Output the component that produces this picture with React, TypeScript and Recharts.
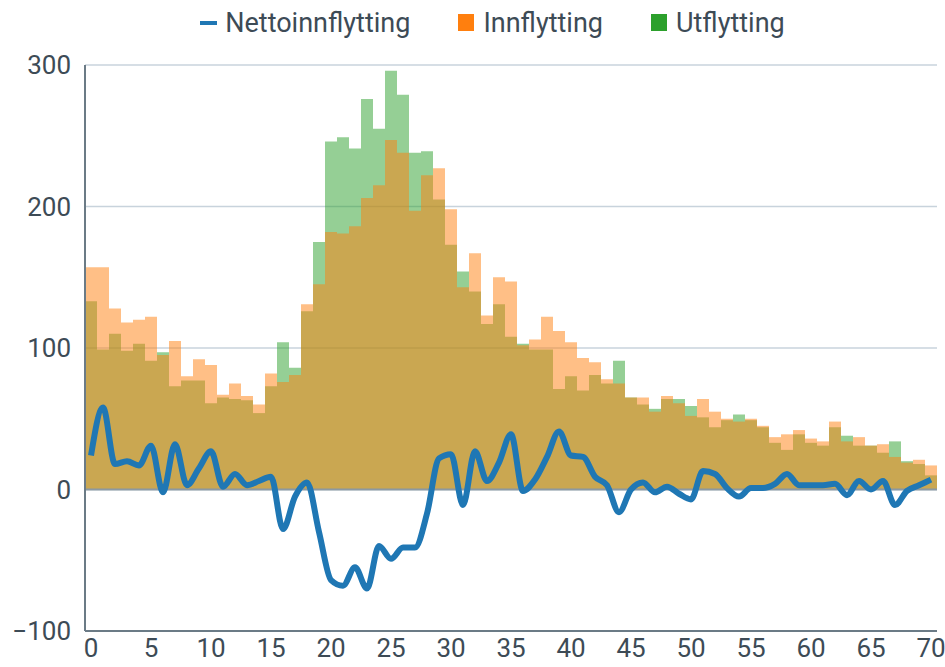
import { ComposedChart, Bar, Line, XAxis, YAxis, CartesianGrid, Legend, ReferenceLine } from 'recharts';

const ages = Array.from({ length: 71 }, (_, i) => i);

const innflytting = [
    157, 157, 128, 118, 120, 122, 95, 105, 80, 92,
    88, 67, 75, 66, 60, 82, 76, 81, 131, 145,
    182, 181, 186, 206, 215, 247, 238, 197, 222, 227,
    198, 143, 167, 123, 150, 147, 102, 106, 122, 112,
    104, 93, 90, 78, 75, 65, 65, 55, 66, 61,
    52, 64, 55, 50, 48, 50, 45, 37, 39, 42,
    36, 34, 48, 34, 37, 31, 32, 23, 19, 21,
    17,
];

const utflytting = [
    133, 99, 110, 98, 103, 91, 97, 73, 77, 77,
    61, 65, 64, 63, 54, 73, 104, 86, 126, 175,
    246, 249, 241, 276, 255, 296, 279, 238, 239, 205,
    173, 154, 140, 117, 131, 108, 103, 99, 99, 71,
    80, 70, 81, 75, 91, 65, 60, 57, 64, 64,
    59, 51, 44, 49, 53, 49, 44, 33, 28, 39,
    33, 31, 44, 38, 31, 31, 26, 34, 20, 18,
    10,
];

const nettoinnflytting = [
    24, 58, 18, 20, 17, 31, -2, 32, 3, 15,
    27, 2, 11, 3, 6, 9, -28, -5, 5, -30,
    -64, -68, -55, -70, -40, -49, -41, -41, -17, 22,
    25, -11, 27, 6, 19, 39, -1, 7, 23, 41,
    24, 23, 9, 3, -16, 0, 5, -2, 2, -3,
    -7, 13, 11, 1, -5, 1, 1, 4, 11, 3,
    3, 3, 4, -4, 6, 0, 6, -11, -1, 3,
    7,
];

const yTicks = [-100, 0, 100, 200, 300];

const data = ages.map((age, i) => ({
    age,
    inn: innflytting[i],
    ut: utflytting[i],
    netto: nettoinnflytting[i],
}));

const textColor = '#3d4b56';

function ChartLegend() {
    const items = [
        { label: 'Nettoinnflytting', color: '#1f77b4', kind: 'line' },
        { label: 'Innflytting', color: '#ff7f0e', kind: 'square' },
        { label: 'Utflytting', color: '#2ca02c', kind: 'square' },
    ];
    return (
        <div style={{ display: 'flex', justifyContent: 'center', alignItems: 'center', fontSize: 27, color: textColor, fontFamily: 'Roboto, sans-serif', height: 45, paddingLeft: 48, boxSizing: 'border-box' }}>
            {items.map((it) => (
                <div key={it.label} style={{ display: 'flex', alignItems: 'center', margin: '0 24px' }}>
                    {it.kind === 'line' ? (
                        <span style={{ display: 'inline-block', width: 17, height: 4, background: it.color, marginRight: 8 }} />
                    ) : (
                        <span style={{ display: 'inline-block', width: 16, height: 17, background: it.color, marginRight: 9 }} />
                    )}
                    <span>{it.label}</span>
                </div>
            ))}
        </div>
    );
}

export default function App() {
    // plot width 852 = 71 * 12, so every age band is a whole 12px and bars meet without seams
    return (
        <div style={{ position: 'absolute', left: 0, top: 0, width: 945, height: 667, background: '#fff' }}>
            <ComposedChart
                width={945}
                height={667}
                data={data}
                margin={{ top: 20, right: 8, bottom: 0, left: 0 }}
                barCategoryGap={0}
                barGap="-100%"
            >
                <CartesianGrid horizontal vertical={false} stroke="#c8d3dc" strokeWidth={1.5} />
                <XAxis
                    dataKey="age"
                    interval={4}
                    tickLine={false}
                    axisLine={{ stroke: '#6b7b86', strokeWidth: 2 }}
                    tick={{ fill: textColor, fontSize: 26, fontFamily: 'Roboto, sans-serif' }}
                    height={36}
                    tickMargin={2}
                />
                <YAxis
                    domain={[-100, 300]}
                    ticks={yTicks}
                    width={85}
                    tickLine={false}
                    axisLine={{ stroke: '#6b7b86', strokeWidth: 2 }}
                    tick={{ fill: textColor, fontSize: 26, fontFamily: 'Roboto, sans-serif' }}
                    tickMargin={8}
                    tickFormatter={(v: number) => (v < 0 ? `\u2212${Math.abs(v)}` : `${v}`)}
                />
                <Legend verticalAlign="top" wrapperStyle={{ top: 0 }} content={() => <ChartLegend />} />
                <Bar dataKey="ut" name="Utflytting" fill="#2ca02c" fillOpacity={0.5} isAnimationActive={false} />
                <Bar dataKey="inn" name="Innflytting" fill="#ff7f0e" fillOpacity={0.5} isAnimationActive={false} />
                <ReferenceLine y={0} stroke="#8c99a3" strokeWidth={2} />
                <Line
                    dataKey="netto"
                    name="Nettoinnflytting"
                    type="monotone"
                    stroke="#1f77b4"
                    strokeWidth={6}
                    dot={false}
                    isAnimationActive={false}
                />
            </ComposedChart>
        </div>
    );
}
